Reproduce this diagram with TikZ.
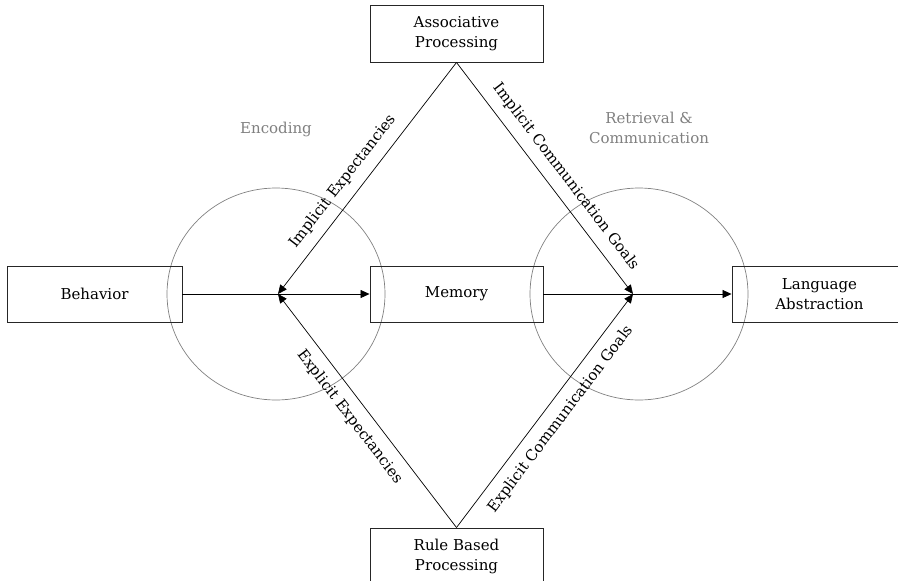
\documentclass[tikz,border=0pt]{standalone}
\usepackage{fontspec}
\setmainfont{DejaVu Serif}
\usetikzlibrary{arrows.meta}
\begin{document}
\begin{tikzpicture}[x=1pt,y=-1pt,
  box/.style={draw=black!85, line width=0.9pt, minimum width=173pt, minimum height=57pt,
    inner sep=0pt, align=center, font=\fontsize{15}{20}\selectfont},
  conn/.style={line width=0.7pt, -{Triangle[length=9pt,width=8pt]}},
  ring/.style={draw=black!50, line width=0.7pt},
  lbl/.style={font=\fontsize{15}{20}\selectfont, inner sep=2pt},
  glbl/.style={font=\fontsize{15}{20}\selectfont, text=black!50, align=center}]
\useasboundingbox (0,0) rectangle (898,581);

% rings
\draw[ring] (276,294) ellipse [x radius=109pt, y radius=106pt];
\draw[ring] (639,294) ellipse [x radius=109pt, y radius=106pt];

% boxes
\node[box] (assoc) at (456.5,33.5) {Associative\\Processing};
\node[box] (rule) at (456.5,556.5) {Rule Based\\Processing};
\node[box, minimum width=175pt, minimum height=56pt] (beh) at (94.5,294) {Behavior};
\node[box, minimum height=56pt] (mem) at (456.5,294) {Memory};
\node[box, minimum width=175pt, minimum height=56pt] (lang) at (819.5,294) {Language\\Abstraction};

% convergence points
\coordinate (L) at (278,294);
\coordinate (R) at (633,294);

% horizontal flow
\draw[conn] (beh.east) -- (mem.west);
\draw[conn] (mem.east) -- (lang.west);

% diagonals
\draw[conn] (assoc.south) -- (L) node[lbl, pos=0.56, sloped, above=8pt] {Implicit Expectancies};
\draw[conn] (rule.north) -- (L) node[lbl, pos=0.52, sloped, below=8pt] {Explicit Expectancies};
\draw[conn] (assoc.south) -- (R) node[lbl, pos=0.54, sloped, above=8pt] {Implicit Communication Goals};
\draw[conn] (rule.north) -- (R) node[lbl, pos=0.51, sloped, below=8pt] {Explicit Communication Goals};

% gray phase labels
\node[glbl] (enc) at (276,129) {Encoding};
\node[glbl] (ret) at (649,128) {Retrieval \&\\Communication};
\end{tikzpicture}
\end{document}
